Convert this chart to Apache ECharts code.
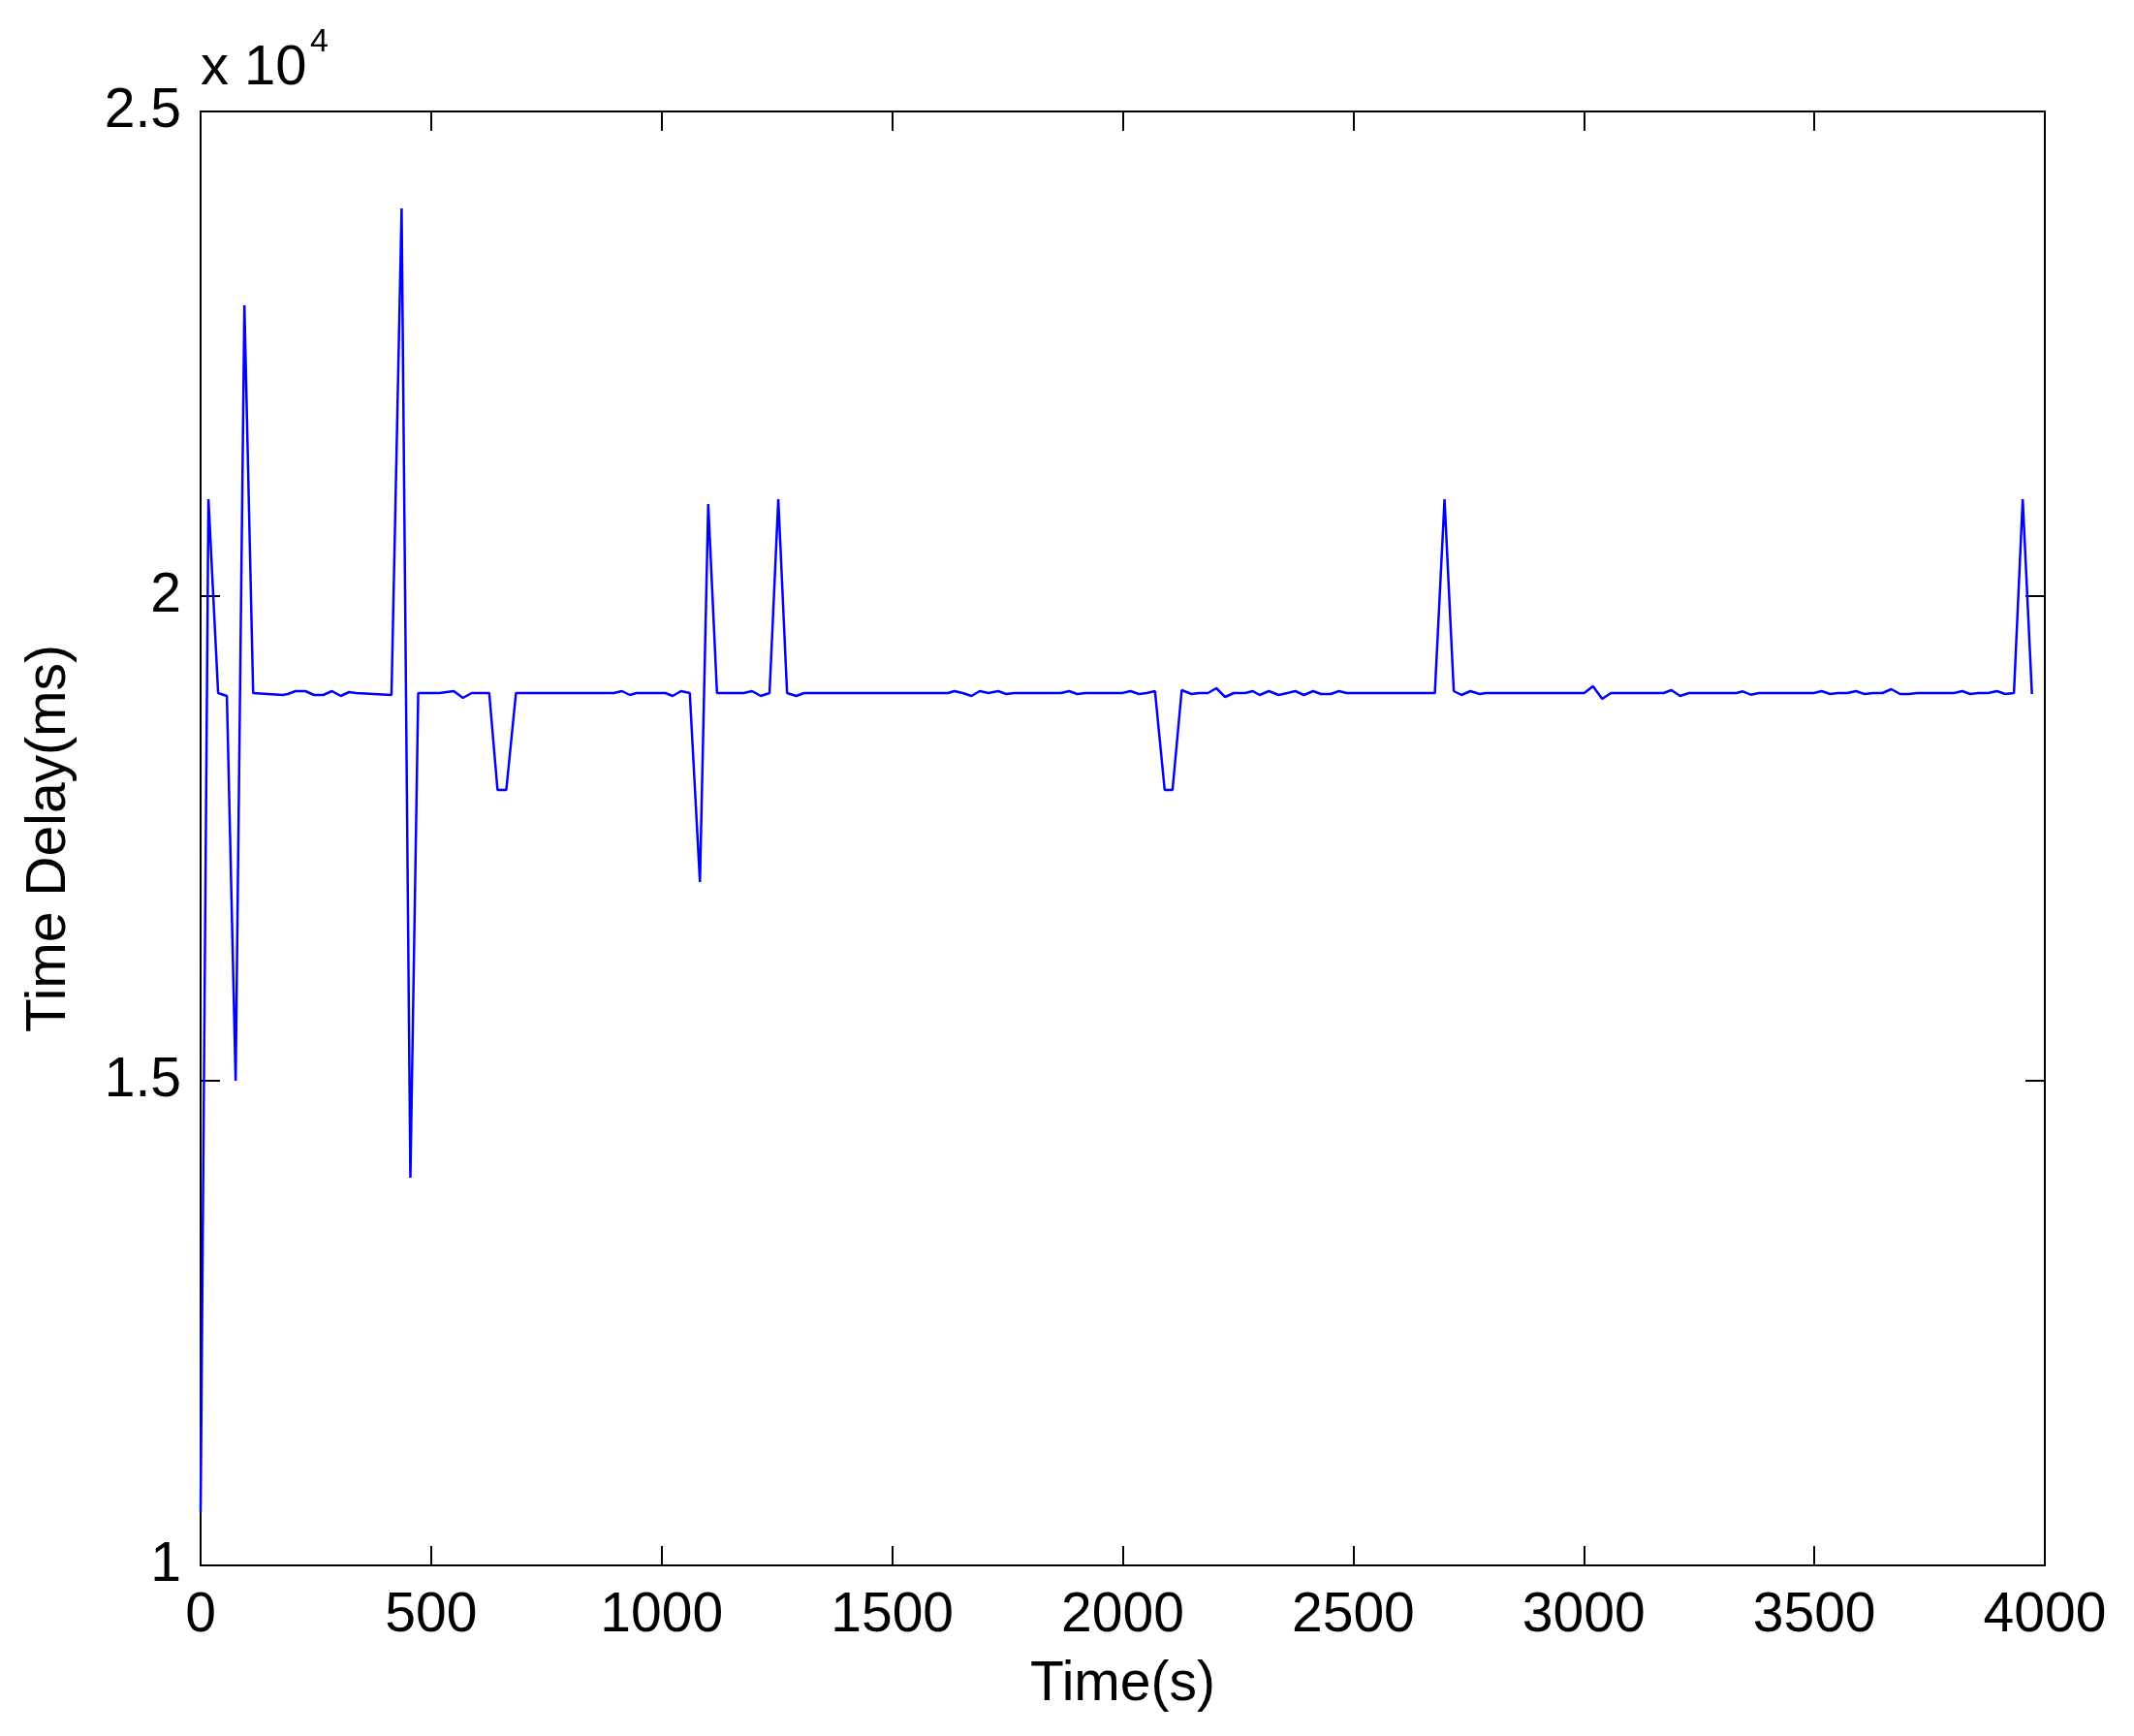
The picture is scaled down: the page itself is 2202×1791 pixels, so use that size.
<!DOCTYPE html>
<html>
<head>
<meta charset="utf-8">
<title>Time Delay</title>
<script src="https://cdn.jsdelivr.net/npm/echarts@6/dist/echarts.min.js"></script>
<style>
  html, body { margin: 0; padding: 0; background: #fff; }
  #chart { width: 2202px; height: 1791px; }
</style>
</head>
<body>
<div id="chart"></div>
<script>
// vertices of the delay trace (time in s, delay in ms)
var times = [
  0, 17, 38, 57, 76, 95, 114, 178, 189, 206, 227, 246, 266, 285, 304, 322, 337, 414,
  436, 455, 472, 518, 549, 569, 588, 626, 644, 663, 684, 896, 914, 931, 945, 1008,
  1024, 1042, 1061, 1083, 1101, 1120, 1178, 1196, 1215, 1234, 1253, 1272, 1292, 1309,
  1621, 1635, 1653, 1672, 1690, 1709, 1730, 1747, 1765, 1866, 1884, 1901, 1919, 1999,
  2017, 2035, 2052, 2070, 2091, 2108, 2128, 2149, 2166, 2185, 2203, 2222, 2241, 2266,
  2282, 2297, 2317, 2338, 2357, 2374, 2393, 2413, 2430, 2451, 2469, 2485, 2677, 2698,
  2718, 2735, 2754, 2774, 2788, 3001, 3020, 3040, 3059, 3173, 3190, 3209, 3228, 3331,
  3345, 3362, 3380, 3499, 3516, 3534, 3551, 3572, 3590, 3609, 3628, 3648, 3667, 3686,
  3705, 3723, 3803, 3821, 3838, 3856, 3877, 3896, 3914, 3933, 3952, 3972
];
var delays = [
  10550, 21000, 19000, 18970, 15000, 23000, 19000, 18980, 18990, 19020, 19020, 18980, 18980, 19020, 18970, 19010, 19000, 18980,
  24000, 14000, 19000, 19000, 19020, 18950, 19000, 19000, 18000, 18000, 19000, 19000, 19020, 18980, 19000, 19000,
  18970, 19020, 19000, 17050, 20950, 19000, 19000, 19020, 18970, 19000, 21000, 19000, 18970, 19000,
  19000, 19020, 19000, 18970, 19020, 19000, 19020, 18990, 19000, 19000, 19020, 18990, 19000, 19000,
  19020, 18990, 19000, 19020, 18000, 18000, 19030, 18990, 19000, 19000, 19050, 18960, 19000, 19000,
  19020, 18980, 19020, 18980, 19000, 19020, 18980, 19020, 18990, 18990, 19020, 19000, 19000, 21000,
  19020, 18980, 19020, 18990, 19000, 19000, 19070, 18940, 19000, 19000, 19030, 18970, 19000, 19000,
  19017, 18983, 19000, 19000, 19020, 18990, 19000, 19000, 19020, 18990, 19000, 19000, 19040, 18990,
  18990, 19000, 19000, 19020, 18990, 19000, 19000, 19020, 18990, 19000, 21000, 18990
];
var xTicks = [0, 500, 1000, 1500, 2000, 2500, 3000, 3500, 4000];
var yTickLabels = ['1', '1.5', '2', '2.5'];

var FONT = '"Liberation Sans", Arial, Helvetica, sans-serif';

var chart = echarts.init(document.getElementById('chart'), null, { renderer: 'canvas' });

var data = times.map(function (t, i) { return [t, delays[i]]; });

var boxLine = { show: true, onZero: false, lineStyle: { color: '#000', width: 2 } };
var tick = { show: true, inside: true, length: 20, lineStyle: { color: '#000', width: 2 } };

var option = {
  animation: false,
  backgroundColor: '#fff',
  grid: { left: 207, top: 115, right: 92, bottom: 176, containLabel: false },
  xAxis: [
    {
      type: 'value', position: 'bottom',
      min: xTicks[0], max: xTicks[xTicks.length - 1], interval: 500,
      axisLine: boxLine, axisTick: tick, splitLine: { show: false },
      axisLabel: {
        color: '#000', fontFamily: FONT, fontSize: 57, margin: 24,
        formatter: function (v) { return String(v); }
      },
      name: 'Time(s)', nameLocation: 'middle', nameGap: 95,
      nameTextStyle: { color: '#000', fontFamily: FONT, fontSize: 57 }
    },
    {
      type: 'value', position: 'top',
      min: xTicks[0], max: xTicks[xTicks.length - 1], interval: 500,
      axisLine: boxLine, axisTick: tick, splitLine: { show: false },
      axisLabel: { show: false }
    }
  ],
  yAxis: [
    {
      type: 'value', position: 'left',
      min: 10000, max: 25000, interval: 5000,
      axisLine: boxLine, axisTick: tick, splitLine: { show: false },
      axisLabel: {
        color: '#000', fontFamily: FONT, fontSize: 57, margin: 20,
        formatter: function (v) { return yTickLabels[Math.round((v - 10000) / 5000)]; }
      },
      name: 'Time Delay(ms)', nameLocation: 'middle', nameGap: 127, nameRotate: 90,
      nameTextStyle: { color: '#000', fontFamily: FONT, fontSize: 57 }
    },
    {
      type: 'value', position: 'right',
      min: 10000, max: 25000, interval: 5000,
      axisLine: boxLine, axisTick: tick, splitLine: { show: false },
      axisLabel: { show: false }
    }
  ],
  graphic: [
    {
      type: 'text', x: 207, y: 71,
      style: { text: 'x 10', font: '58px ' + FONT, fill: '#000', align: 'left', verticalAlign: 'middle' }
    },
    {
      type: 'text', x: 320, y: 44,
      style: { text: '4', font: '34px ' + FONT, fill: '#000', align: 'left', verticalAlign: 'middle' }
    }
  ],
  series: [
    {
      type: 'line',
      data: data,
      showSymbol: false,
      symbol: 'none',
      lineStyle: { color: '#0000ff', width: 2.5 },
      itemStyle: { color: '#0000ff' }
    }
  ]
};

chart.setOption(option);
</script>
</body>
</html>
